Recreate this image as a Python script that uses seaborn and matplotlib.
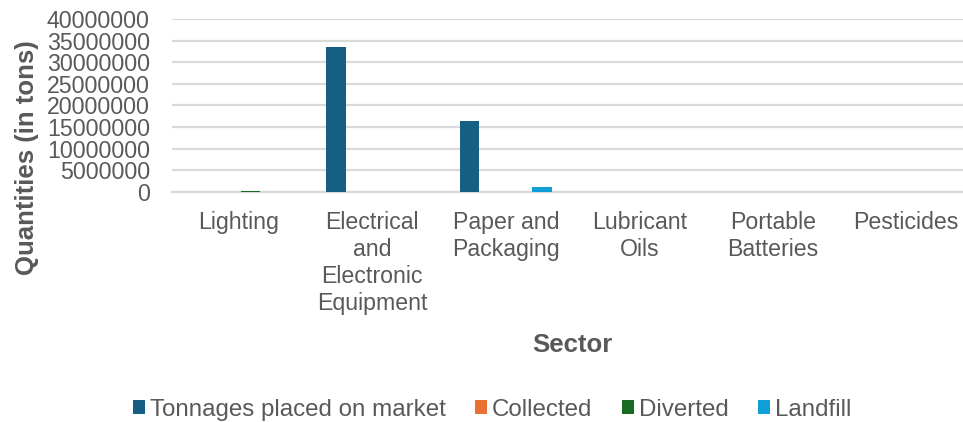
import matplotlib
matplotlib.use("Agg")
import matplotlib.pyplot as plt
import seaborn as sns
import pandas as pd

sectors = ["Lighting", "Electrical\nand\nElectronic\nEquipment", "Paper and\nPackaging",
           "Lubricant\nOils", "Portable\nBatteries", "Pesticides"]
series = ["Tonnages placed on market", "Collected", "Diverted", "Landfill"]
tonnages = [20000, 33600000, 16300000, 15000, 8000, 20000]
collected = [5000, 10000, 15000, 5000, 2000, 3000]
diverted = [120000, 8000, 12000, 4000, 1000, 2000]
landfill = [5000, 10000, 1000000, 2000, 1000, 8000]
colors = ["#156082", "#E97132", "#196B24", "#0F9ED5"]
yticks = [0, 5000000, 10000000, 15000000, 20000000, 25000000, 30000000, 35000000, 40000000]

rows = []
for name, vals in zip(series, [tonnages, collected, diverted, landfill]):
    for sec, v in zip(sectors, vals):
        rows.append({"Sector": sec, "Series": name, "Value": v})
df = pd.DataFrame(rows)

sns.set_theme(style="white")
plt.rcParams["font.family"] = ["Liberation Sans", "DejaVu Sans"]
text_color = "#595959"
grid_color = "#D9D9D9"
fs = 16.7

fig = plt.figure(figsize=(9.63, 4.22), dpi=100)
ax = fig.add_axes([172 / 963, 1 - 191.7 / 422, 801 / 963, (191.7 - 19) / 422])

sns.barplot(data=df, x="Sector", y="Value", hue="Series", order=sectors, hue_order=series,
            palette=dict(zip(series, colors)), saturation=1, width=0.725, gap=0.21,
            linewidth=0, errorbar=None, ax=ax, zorder=3)

ax.set_ylim(0, 40000000)
ax.set_xlim(-0.5, len(sectors) - 0.5)
ax.set_yticks(yticks)
ax.set_yticklabels([str(t) for t in yticks])
ax.yaxis.grid(True, color=grid_color, linewidth=1.6, zorder=0)
ax.set_axisbelow(True)
for side in ["top", "right", "left"]:
    ax.spines[side].set_visible(False)
ax.spines["bottom"].set_color(grid_color)
ax.spines["bottom"].set_linewidth(1.6)
ax.tick_params(axis="both", length=0, labelsize=fs, colors=text_color)
ax.tick_params(axis="y", pad=16)
ax.tick_params(axis="x", pad=14)
for lbl in ax.get_xticklabels():
    lbl.set_linespacing(1.215)
    lbl.set_horizontalalignment("center")

ax.set_ylabel("Quantities (in tons)", fontsize=18.5, fontweight="bold", color=text_color)
ax.yaxis.set_label_coords(-0.166, 0.2)
ax.set_xlabel("Sector", fontsize=18.5, fontweight="bold", color=text_color, labelpad=13)

handles, labels = ax.get_legend_handles_labels()
ax.get_legend().remove()
fig.legend(handles, labels, loc="center", bbox_to_anchor=(492 / 963, 1 - 410 / 422), ncol=4,
           frameon=False, fontsize=17.4, labelcolor=text_color, handlelength=0.52,
           handleheight=0.52, handletextpad=0.2, columnspacing=1.2)

fig.savefig("out.png", dpi=100)
